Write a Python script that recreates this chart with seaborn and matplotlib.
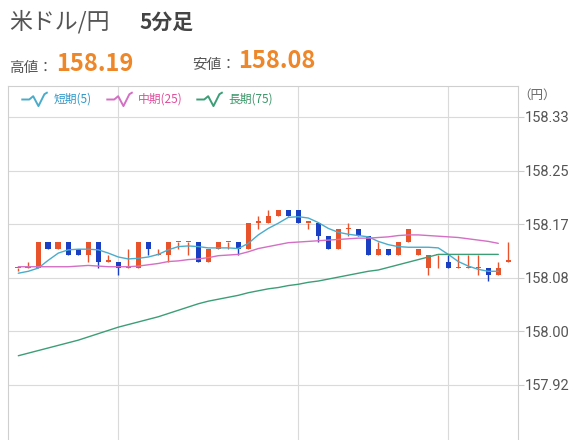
import matplotlib
matplotlib.use("Agg")
import matplotlib.pyplot as plt
import seaborn as sns
import pandas as pd
from matplotlib.lines import Line2D
from matplotlib.path import Path

# 5-minute candles (USD/JPY)
opens = [158.10, 158.10, 158.10, 158.14, 158.13, 158.14, 158.13, 158.12, 158.14, 158.11,
         158.11, 158.10, 158.10, 158.14, 158.12, 158.12, 158.14, 158.14, 158.14, 158.11,
         158.13, 158.14, 158.14, 158.13, 158.17, 158.17, 158.18, 158.19, 158.19, 158.17,
         158.17, 158.15, 158.13, 158.16, 158.16, 158.15, 158.12, 158.13, 158.12, 158.14,
         158.12, 158.10, 158.12, 158.11, 158.10, 158.10, 158.10, 158.10, 158.09, 158.11]
highs = [158.10, 158.11, 158.14, 158.14, 158.14, 158.14, 158.13, 158.14, 158.14, 158.12,
         158.11, 158.13, 158.14, 158.14, 158.13, 158.14, 158.14, 158.14, 158.14, 158.13,
         158.14, 158.14, 158.14, 158.17, 158.18, 158.19, 158.19, 158.19, 158.19, 158.17,
         158.17, 158.15, 158.16, 158.17, 158.16, 158.15, 158.14, 158.13, 158.14, 158.16,
         158.13, 158.12, 158.12, 158.12, 158.12, 158.12, 158.12, 158.10, 158.11, 158.14]
lows = [158.095, 158.10, 158.10, 158.13, 158.13, 158.12, 158.12, 158.11, 158.10, 158.11,
        158.09, 158.10, 158.10, 158.12, 158.12, 158.11, 158.13, 158.12, 158.11, 158.11,
        158.13, 158.13, 158.12, 158.13, 158.16, 158.17, 158.18, 158.18, 158.17, 158.16,
        158.14, 158.13, 158.13, 158.15, 158.15, 158.12, 158.12, 158.12, 158.12, 158.14,
        158.12, 158.09, 158.10, 158.10, 158.10, 158.10, 158.09, 158.08, 158.09, 158.11]
closes = [158.10, 158.10, 158.14, 158.13, 158.14, 158.12, 158.12, 158.14, 158.11, 158.11,
          158.10, 158.10, 158.14, 158.13, 158.12, 158.14, 158.14, 158.14, 158.11, 158.13,
          158.14, 158.14, 158.13, 158.17, 158.17, 158.18, 158.19, 158.18, 158.17, 158.17,
          158.15, 158.13, 158.16, 158.16, 158.15, 158.12, 158.13, 158.12, 158.14, 158.16,
          158.13, 158.12, 158.12, 158.10, 158.10, 158.10, 158.10, 158.09, 158.10, 158.11]

# moving averages (short 5, mid 25, long 75)
ma_short = [158.092, 158.095, 158.100, 158.112, 158.123, 158.128, 158.129, 158.129, 158.128, 158.123,
            158.117, 158.114, 158.115, 158.117, 158.121, 158.128, 158.133, 158.134, 158.133, 158.131,
            158.131, 158.131, 158.130, 158.138, 158.151, 158.161, 158.169, 158.178, 158.179, 158.177,
            158.170, 158.161, 158.155, 158.152, 158.150, 158.148, 158.141, 158.136, 158.133, 158.132,
            158.132, 158.132, 158.131, 158.121, 158.110, 158.103, 158.098, 158.095, 158.095]
ma_mid = [158.102, 158.102, 158.102, 158.102, 158.102, 158.102, 158.103, 158.104, 158.103, 158.102,
          158.102, 158.102, 158.103, 158.105, 158.107, 158.110, 158.111, 158.113, 158.114, 158.116,
          158.119, 158.120, 158.121, 158.125, 158.130, 158.133, 158.136, 158.139, 158.140, 158.141,
          158.142, 158.143, 158.144, 158.145, 158.146, 158.146, 158.147, 158.148, 158.150, 158.151,
          158.151, 158.150, 158.149, 158.148, 158.147, 158.145, 158.143, 158.141, 158.138]
ma_long = [157.965, 157.969, 157.973, 157.977, 157.981, 157.985, 157.989, 157.994, 157.999, 158.004,
           158.009, 158.013, 158.017, 158.021, 158.025, 158.030, 158.035, 158.040, 158.045, 158.049,
           158.052, 158.055, 158.058, 158.062, 158.065, 158.068, 158.070, 158.073, 158.075, 158.078,
           158.080, 158.083, 158.086, 158.089, 158.092, 158.095, 158.097, 158.101, 158.105, 158.109,
           158.113, 158.117, 158.121, 158.121, 158.121, 158.121, 158.121, 158.121, 158.121]

tick_vals = [157.92, 158.0025, 158.085, 158.1675, 158.25, 158.3325]
tick_labels = ["157.92", "158.00", "158.08", "158.17", "158.25", "158.33"]
hour_marks = [10, 28, 43]  # candle index where the time grid falls

ma_names = ["短期(5)", "中期(25)", "長期(75)"]
ma_colors = ["#4aaccb", "#d46fc4", "#3c9e77"]
legend_colors = ["#2f98c9", "#e04c9c", "#3a9668"]
up_color = "#e8532b"
down_color = "#1b3fc2"

sns.set_theme(style="white")
plt.rcParams["font.family"] = ["Noto Sans CJK JP", "DejaVu Sans"]

fig = plt.figure(figsize=(5.76, 4.40), dpi=100)
ax = fig.add_axes([8 / 576, 0, 510 / 576, 354 / 440])

# candles
n = len(opens)
xs = list(range(n))
bottoms = [min(o, c) for o, c in zip(opens, closes)]
heights = [max(abs(c - o), 0.0018) for o, c in zip(opens, closes)]
colors = [down_color if c < o else up_color for o, c in zip(opens, closes)]
ax.vlines(xs, lows, highs, colors=colors, linewidth=1.0, zorder=2)
ax.bar(xs, heights, bottom=bottoms, width=0.56, color=colors, linewidth=0, zorder=3)

# moving averages
ma = pd.DataFrame({"idx": list(range(len(ma_short))) * 3,
                   "value": ma_short + ma_mid + ma_long,
                   "ma": [ma_names[0]] * len(ma_short) + [ma_names[1]] * len(ma_mid)
                         + [ma_names[2]] * len(ma_long)})
sns.lineplot(data=ma, x="idx", y="value", hue="ma", palette=ma_colors, linewidth=1.0,
             legend=False, ax=ax, zorder=4)

ax.set_xlim(-1.03, 49.97)
ax.set_ylim(157.8353, 158.3802)
ax.set_xlabel("")
ax.set_ylabel("")
ax.set_xticks(hour_marks)
ax.set_xticklabels([])
ax.tick_params(axis="x", length=0)
ax.yaxis.tick_right()
ax.set_yticks(tick_vals)
ax.set_yticklabels(tick_labels)
ax.tick_params(axis="y", length=4, width=0.8, color="#cccccc", pad=1,
               labelsize=10.5, labelcolor="#555555")
for lab in ax.get_yticklabels():
    lab.set_family(["Roboto", "DejaVu Sans"])
ax.grid(True, color="#dadada", linewidth=0.8)
ax.spines["bottom"].set_visible(False)
for side in ["left", "top", "right"]:
    ax.spines[side].set_color("#cfcfcf")
    ax.spines[side].set_linewidth(0.8)

# legend with small wave icons
wave = Path([(-1.0, 0.0), (-0.4, 0.0), (-0.1, 0.25), (0.3, -0.5), (0.75, 0.4), (1.0, 0.55)])
handles = [Line2D([], [], linestyle="none", marker=wave, markersize=19, markeredgewidth=1.4,
                  markerfacecolor="none", markeredgecolor=c) for c in ma_colors]
leg = ax.legend(handles, ma_names, loc="center left", bbox_to_anchor=(14 / 510, 0.962),
                ncol=3, frameon=False, fontsize=8.5, handlelength=2.1, handletextpad=0.6,
                columnspacing=1.2, borderaxespad=0, borderpad=0)
for t, c in zip(leg.get_texts(), legend_colors):
    t.set_color(c)

fig.text(556 / 576, 1 - 95 / 440, "（円）", ha="right", va="center", fontsize=9, color="#666666")

# header
fig.text(9 / 576, 1 - 22 / 440, "米ドル/円", ha="left", va="center", fontsize=16.5, color="#555555")
fig.text(139 / 576, 1 - 22 / 440, "5分足", ha="left", va="center", fontsize=15,
         color="#444444", fontweight="bold")
fig.text(9 / 576, 1 - 68 / 440, "高値：", ha="left", va="center", fontsize=10.5, color="#555555")
fig.text(56 / 576, 1 - 64 / 440, "158.19", ha="left", va="center", fontsize=17,
         color="#ee862a", fontweight="bold")
fig.text(192 / 576, 1 - 65 / 440, "安値：", ha="left", va="center", fontsize=10.5, color="#555555")
fig.text(238 / 576, 1 - 61 / 440, "158.08", ha="left", va="center", fontsize=17,
         color="#ee862a", fontweight="bold")

fig.savefig("out.png", dpi=100, facecolor="white")
